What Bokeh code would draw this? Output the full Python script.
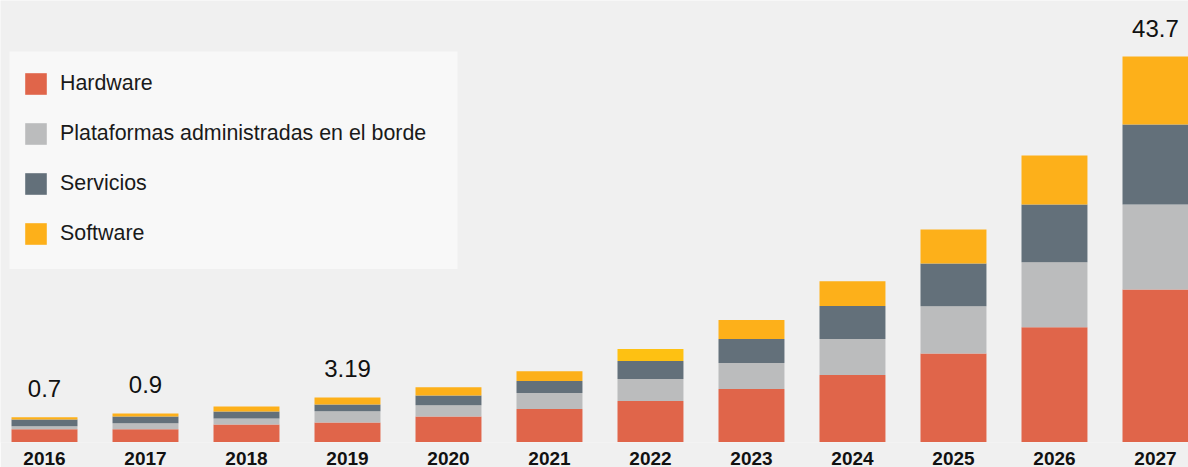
from bokeh.plotting import figure
from bokeh.models import ColumnDataSource, Range1d, FixedTicker, LabelSet, BoxAnnotation
from bokeh.core.properties import value
from bokeh.embed import file_html
from bokeh.resources import INLINE

years = ["2016", "2017", "2018", "2019", "2020", "2021", "2022", "2023", "2024", "2025", "2026", "2027"]
hardware = [1.44, 1.44, 2.00, 2.23, 2.91, 3.74, 4.65, 6.01, 7.59, 10.05, 13.00, 17.30]
plataformas = [0.34, 0.68, 0.68, 1.25, 1.25, 1.81, 2.49, 2.95, 4.08, 5.33, 7.37, 9.63]
servicios = [0.79, 0.79, 0.79, 0.79, 1.13, 1.36, 2.04, 2.72, 3.74, 4.87, 6.57, 9.07]
software = [0.23, 0.34, 0.57, 0.79, 0.91, 1.13, 1.36, 2.15, 2.83, 3.85, 5.55, 7.70]
series_names = ["Hardware", "Plataformas administradas en el borde", "Servicios", "Software"]
value_labels = ["0.7", "0.9", "", "3.19", "", "", "", "", "", "", "", "43.7"]

colors = ["#E0654A", "#BBBCBD", "#63707A", "#FDB01A"]
software_2022_color = "#FEC112"
BG = "#F0F0F0"
FONT = "Liberation Sans"

# layout constants (pixel geometry of the page)
W, H = 1188, 467
X0, X1 = -0.4356, 11.327
Y0, Y1 = -0.05, 50.05
FRAME_H = 441.0

def px_to_x(px):
    return X0 + px * (X1 - X0) / W

def py_to_y(py):
    return Y1 - py * (Y1 - Y0) / FRAME_H

xs = list(range(len(years)))
totals = [h + p_ + s + w for h, p_, s, w in zip(hardware, plataformas, servicios, software)]
sw_colors = [software_2022_color if y == "2022" else colors[3] for y in years]
source = ColumnDataSource(dict(x=xs, hardware=hardware, plataformas=plataformas,
                               servicios=servicios, software=software,
                               total=totals, label=value_labels, sw_color=sw_colors))

p = figure(width=W, height=H, output_backend="svg", toolbar_location=None,
           x_range=Range1d(X0, X1), y_range=Range1d(Y0, Y1),
           min_border=0, background_fill_color=BG, border_fill_color=BG,
           outline_line_color=None)

# legend panel background
p.add_layout(BoxAnnotation(left=px_to_x(9), right=px_to_x(457),
                           top=py_to_y(51), bottom=py_to_y(268),
                           fill_color="#F8F8F8", fill_alpha=1.0, line_color=None,
                           level="underlay"))

p.vbar_stack(["hardware", "plataformas", "servicios", "software"], x="x", width=0.653,
             color=colors[:3] + ["sw_color"], line_color=None, source=source,
             legend_label=series_names)

labels = LabelSet(x="x", y="total", text="label", source=source, text_align="center",
                  text_baseline="bottom", y_offset=20, text_font=value(FONT),
                  text_font_size="24px", text_color="#111111")
p.add_layout(labels)

p.yaxis.visible = False
p.xgrid.visible = False
p.ygrid.visible = False
p.xaxis.ticker = FixedTicker(ticks=xs)
p.xaxis.major_label_overrides = {i: y for i, y in zip(xs, years)}
p.xaxis.axis_line_color = None
p.xaxis.major_tick_line_color = None
p.xaxis.minor_tick_line_color = None
p.xaxis.major_label_standoff = 3
p.xaxis.major_label_text_font = FONT
p.xaxis.major_label_text_font_style = "bold"
p.xaxis.major_label_text_font_size = "19px"
p.xaxis.major_label_text_color = "#111111"

lg = p.legend[0]
lg.location = (22, 195)
lg.margin = 0
lg.padding = 0
lg.spacing = 23
lg.glyph_width = 27
lg.glyph_height = 27
lg.label_height = 27
lg.label_standoff = 11
lg.label_text_font = FONT
lg.label_text_font_size = "21.4px"
lg.label_text_color = "#1A1A1A"
lg.background_fill_alpha = 0.0
lg.border_line_color = None

open("out.html", "w").write(file_html(p, INLINE))
